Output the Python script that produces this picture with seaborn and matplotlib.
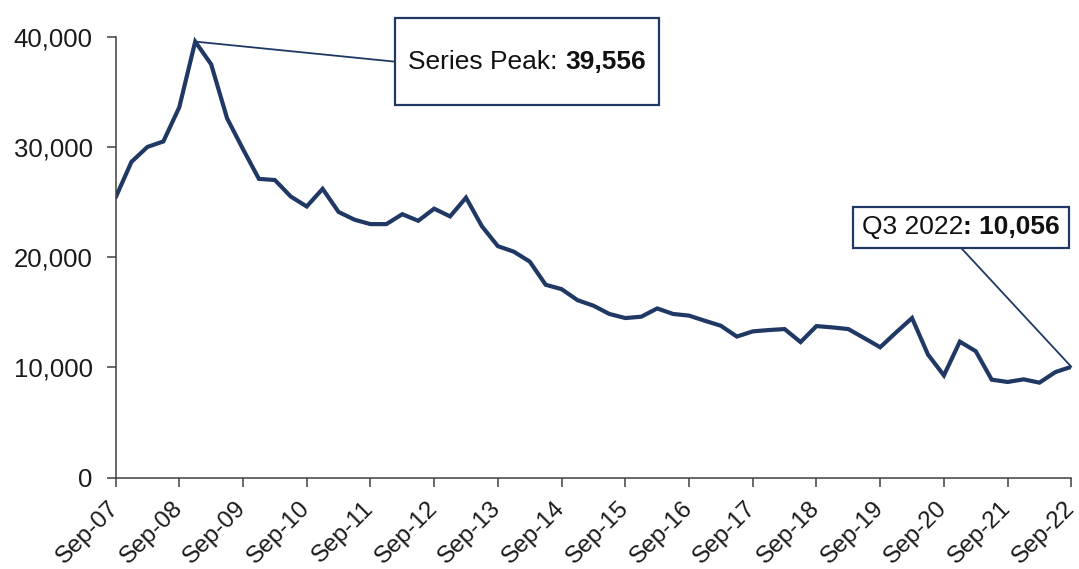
import matplotlib
matplotlib.use("Agg")
import matplotlib.pyplot as plt
from matplotlib.patches import Rectangle
from matplotlib.offsetbox import TextArea, HPacker, AnnotationBbox
import seaborn as sns
import pandas as pd

# Quarterly series, Sep-07 (Q3 2007) to Sep-22 (Q3 2022)
values = [
    25400, 28650, 30000, 30500, 33600, 39556, 37500, 32600, 29800, 27100,
    27000, 25500, 24600, 26200, 24100, 23400, 23000, 23000, 23900, 23300,
    24400, 23700, 25400, 22800, 21000, 20500, 19600, 17500, 17100, 16100,
    15600, 14850, 14480, 14600, 15350, 14850, 14700, 14230, 13780, 12800,
    13270, 13390, 13480, 12300, 13750, 13630, 13480, 12660, 11830, 13180,
    14480, 11170, 9280, 12340, 11470, 8890, 8680, 8920, 8620, 9580,
    10056,
]
tick_labels = ["Sep-07", "Sep-08", "Sep-09", "Sep-10", "Sep-11", "Sep-12",
               "Sep-13", "Sep-14", "Sep-15", "Sep-16", "Sep-17", "Sep-18",
               "Sep-19", "Sep-20", "Sep-21", "Sep-22"]
y_ticks = [0, 10000, 20000, 30000, 40000]
peak_prefix, peak_value = "Series Peak: ", 39556
last_prefix, last_value = "Q3 2022", ": 10,056"

df = pd.DataFrame({"quarter": range(len(values)), "count": values})

sns.set_theme(style="white")
plt.rcParams["font.family"] = ["Liberation Sans", "DejaVu Sans"]

NAVY = "#203864"
AXIS = "#404040"

fig = plt.figure(figsize=(10.79, 5.69), dpi=100)
ax = fig.add_axes([0.1071, 0.1605, 0.9929 - 0.1071, 0.9355 - 0.1605])

sns.lineplot(data=df, x="quarter", y="count", ax=ax, color=NAVY,
             linewidth=3.0, solid_joinstyle="miter")

ax.set_xlim(0, len(values) - 1)
ax.set_ylim(0, 40000)
ax.set_xticks(range(0, len(values), 4))
ax.set_xticklabels(tick_labels, rotation=45, ha="right", va="center",
                   rotation_mode="anchor", fontsize=17.5)
ax.set_yticks(y_ticks)
ax.set_yticklabels([f"{v:,}" for v in y_ticks], fontsize=18.5)
ax.set_xlabel("")
ax.set_ylabel("")

for side in ("top", "right"):
    ax.spines[side].set_visible(False)
for side in ("left", "bottom"):
    ax.spines[side].set_color(AXIS)
    ax.spines[side].set_linewidth(1.1)

ax.tick_params(axis="both", which="major", direction="out", length=6.5,
               width=1.1, color=AXIS, labelcolor="#1a1a1a",
               bottom=True, left=True)
ax.tick_params(axis="y", pad=10)
ax.tick_params(axis="x", pad=13)


def callout(x0, x1, y0, y1, parts, anchor_xy, leader_from):
    """Boxed label in axes fraction with a leader line to a data point."""
    ax.add_patch(Rectangle((x0, y0), x1 - x0, y1 - y0, transform=ax.transAxes,
                           facecolor="white", edgecolor=NAVY, linewidth=1.6,
                           clip_on=False, zorder=5))
    areas = [TextArea(txt, textprops=dict(fontsize=19, color="#111111",
                                          fontweight=w,
                                          family=["Liberation Sans"]))
             for txt, w in parts]
    box = HPacker(children=areas, align="baseline", pad=0, sep=0)
    ab = AnnotationBbox(box, ((x0 + x1) / 2, (y0 + y1) / 2),
                        xycoords="axes fraction", frameon=False,
                        box_alignment=(0.5, 0.5), zorder=6,
                        annotation_clip=False)
    ax.add_artist(ab)
    ax.annotate("", xy=anchor_xy, xycoords="data",
                xytext=leader_from, textcoords="axes fraction",
                arrowprops=dict(arrowstyle="-", color=NAVY, lw=1.3,
                                shrinkA=0, shrinkB=0),
                annotation_clip=False, zorder=4)


peak_idx = values.index(peak_value)
callout(0.2924, 0.5686, 0.8451, 1.0417,
        [(peak_prefix, "normal"), (f"{peak_value:,}", "bold")],
        (peak_idx, peak_value), (0.2924, (0.8451 + 1.0417) / 2))

last_idx = len(values) - 1
callout(0.7713, 0.9976, 0.5215, 0.6132,
        [(last_prefix, "normal"), (last_value, "bold")],
        (last_idx, values[last_idx]), ((0.7713 + 0.9976) / 2, 0.5215))

fig.savefig("out.png", dpi=100, facecolor="white")
